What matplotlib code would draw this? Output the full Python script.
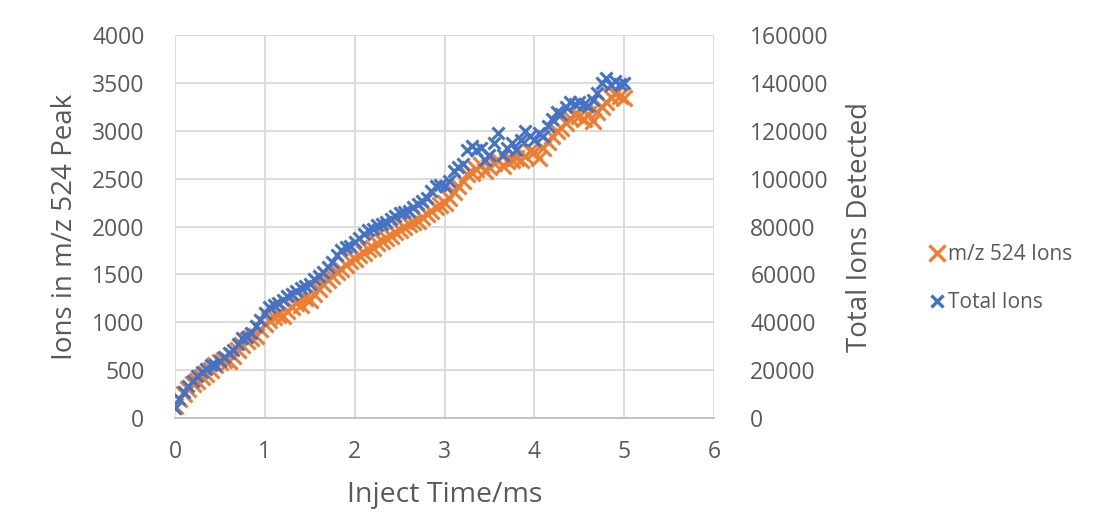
import matplotlib
matplotlib.use("Agg")
import matplotlib.pyplot as plt
from matplotlib.lines import Line2D

# inject time (ms)
inject_time = [round(i * 0.05, 2) for i in range(101)]

# ions in the m/z 524 peak (left axis)
mz524_ions = [
    120, 200, 250, 300, 350, 390, 430, 460, 500, 550,
    580, 610, 590, 650, 710, 760, 800, 840, 860, 930,
    980, 1020, 1050, 1080, 1070, 1120, 1160, 1200, 1180, 1250,
    1230, 1300, 1350, 1400, 1440, 1480, 1520, 1560, 1600, 1640,
    1660, 1700, 1720, 1760, 1780, 1830, 1850, 1880, 1900, 1940,
    1960, 1990, 2030, 2050, 2060, 2100, 2130, 2160, 2200, 2230,
    2250, 2300, 2360, 2420, 2480, 2550, 2560, 2600, 2640, 2580,
    2620, 2660, 2690, 2630, 2680, 2700, 2720, 2690, 2740, 2790,
    2780, 2720, 2820, 2880, 2950, 3000, 3030, 3080, 3130, 3170,
    3150, 3120, 3180, 3100, 3200, 3250, 3300, 3350, 3380, 3360,
    3340,
]

# total ions detected (right axis)
total_ions = [
    4000, 8000, 11000, 13500, 15500, 17500, 19000, 20500, 22000, 22000,
    24000, 25500, 27000, 28500, 31000, 33500, 34000, 35500, 38500, 41000,
    44000, 46500, 47000, 48000, 49500, 51000, 52000, 53000, 54500, 55000,
    56000, 58000, 59500, 61000, 63000, 65000, 68000, 70000, 71500, 72000,
    73500, 75000, 77000, 78500, 79000, 80500, 81000, 82000, 83000, 84500,
    85500, 86000, 86500, 88000, 89500, 90500, 92000, 95000, 97000, 97500,
    97000, 99000, 103000, 105000, 106000, 112000, 113500, 112000, 113000, 108000,
    110000, 115000, 119000, 110000, 113000, 115000, 112000, 116000, 120000, 118000,
    116000, 119000, 118000, 122000, 125000, 128000, 127000, 130000, 132000, 131000,
    132000, 131000, 130500, 133000, 136000, 140000, 142000, 139000, 141000, 139500,
    140000,
]

ORANGE = "#ED7D31"
BLUE = "#4472C4"
TEXT = "#595959"
GRID = "#D9D9D9"

plt.rcParams["font.family"] = ["Open Sans", "DejaVu Sans"]

fig = plt.figure(figsize=(10.97, 5.16), dpi=100, facecolor="white")
ax = fig.add_axes([0.1595, 0.19, 0.4915, 0.742])
ax2 = ax.twinx()

ax.plot(inject_time, mz524_ions, linestyle="none", marker="x", color=ORANGE,
        markersize=11, markeredgewidth=2.2)
ax2.plot(inject_time, total_ions, linestyle="none", marker="x", color=BLUE,
         markersize=9, markeredgewidth=2.2)

ax.set_xlim(0, 6)
ax.set_ylim(0, 4000)
ax2.set_ylim(0, 160000)
ax.set_xticks(range(0, 7))
ax.set_yticks(range(0, 4001, 500))
ax2.set_yticks(range(0, 160001, 20000))

ax.grid(True, color=GRID, linewidth=1.3)
ax.set_axisbelow(True)
for a in (ax, ax2):
    for s in a.spines.values():
        s.set_visible(False)
    a.tick_params(length=0, labelsize=16.5, colors=TEXT)
ax.spines["bottom"].set_visible(True)
ax.spines["bottom"].set_color("#BFBFBF")
ax.spines["bottom"].set_linewidth(1.3)
ax.tick_params(axis="x", pad=16)
ax.tick_params(axis="y", pad=22)
ax2.tick_params(axis="y", pad=26)

ax.set_xlabel("Inject Time/ms", fontsize=20.5, color=TEXT, labelpad=12)
ax.set_ylabel("Ions in m/z 524 Peak", fontsize=20, color=TEXT, labelpad=9)
ax2.set_ylabel("Total Ions Detected", fontsize=20, color=TEXT, labelpad=12)

handles = [
    Line2D([], [], linestyle="none", marker="x", color=ORANGE, markersize=12, markeredgewidth=2.4),
    Line2D([], [], linestyle="none", marker="x", color=BLUE, markersize=8, markeredgewidth=2.4),
]
fig.legend(handles, ["m/z 524 Ions", "Total Ions"], loc="center left",
           bbox_to_anchor=(0.83, 0.46), frameon=False, fontsize=15,
           labelcolor=TEXT, handlelength=0.7, handletextpad=0.2, labelspacing=1.3)

fig.savefig("out.png", dpi=100)
